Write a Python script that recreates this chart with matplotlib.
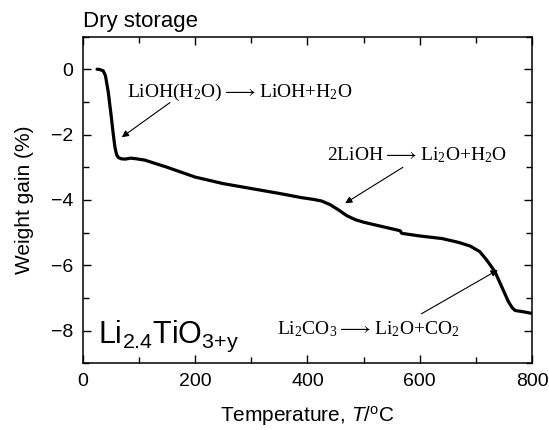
import matplotlib
matplotlib.use("Agg")
import matplotlib.pyplot as plt
from matplotlib.ticker import MultipleLocator

plt.rcParams['font.family'] = ['Liberation Sans', 'DejaVu Sans']
plt.rcParams['mathtext.fontset'] = 'custom'
plt.rcParams['mathtext.rm'] = 'Liberation Sans'
plt.rcParams['mathtext.it'] = 'Liberation Sans:italic'
plt.rcParams['mathtext.default'] = 'regular'

# TGA curve (Temperature in C, weight gain in %)
temperature = [25, 30, 36, 40, 45, 50, 54, 57, 60, 63, 68, 75, 85, 95, 110, 150,
               200, 250, 300, 350, 390, 410, 425, 440, 455, 470, 485, 500, 530,
               565, 568, 572, 600, 640, 670, 690, 707, 719, 734, 746, 758, 765,
               770, 785, 800]
weight_gain = [0.0, -0.01, -0.05, -0.2, -0.7, -1.4, -2.0, -2.4, -2.62, -2.7, -2.74,
               -2.75, -2.72, -2.74, -2.78, -3.0, -3.3, -3.5, -3.65, -3.8, -3.93,
               -3.98, -4.03, -4.14, -4.3, -4.48, -4.6, -4.68, -4.8, -4.94, -5.02,
               -5.03, -5.1, -5.18, -5.3, -5.41, -5.58, -5.83, -6.19, -6.65, -7.11,
               -7.3, -7.38, -7.42, -7.47]

fig = plt.figure(figsize=(5.49, 4.30), dpi=100)
ax = fig.add_axes([0.1512, 0.1547, 0.969 - 0.1512, 0.9151 - 0.1547])

ax.plot(temperature, weight_gain, color='black', lw=2.3, solid_capstyle='round',
        solid_joinstyle='round')

ax.set_xlim(0, 800)
ax.set_ylim(-9, 1)
ax.xaxis.set_major_locator(MultipleLocator(200))
ax.xaxis.set_minor_locator(MultipleLocator(100))
ax.yaxis.set_major_locator(MultipleLocator(2))
ax.yaxis.set_minor_locator(MultipleLocator(1))
ax.tick_params(which='both', direction='in', top=True, right=True, labelsize=14, width=1.0)
ax.tick_params(which='major', length=6, pad=7)
ax.tick_params(which='minor', length=4)
for s in ax.spines.values():
    s.set_linewidth(1.1)

ax.set_xlabel(r'Temperature, $\it{T}$/$^{o}$C', fontsize=15, labelpad=10)
ax.set_ylabel('Weight gain (%)', fontsize=15, labelpad=12)
ax.text(0.0, 1.015, 'Dry storage', transform=ax.transAxes, fontsize=16,
        ha='left', va='bottom')

serif = ['Liberation Serif', 'DejaVu Serif']
ann_kw = dict(family=serif, fontsize=14, ha='left', va='baseline',
              math_fontfamily='dejavuserif')
ax.text(78, -0.86, r'LiOH(H$_2$O)$\longrightarrow$LiOH+H$_2$O', **ann_kw)
ax.text(434, -2.80, r'2LiOH$\longrightarrow$Li$_2$O+H$_2$O', **ann_kw)
ax.text(345, -8.1, r'Li$_2$CO$_3$$\longrightarrow$Li$_2$O+CO$_2$', **ann_kw)

ax.text(27, -8.37, r'Li$_{2.4}$TiO$_{3{+}y}$', fontsize=22, ha='left', va='baseline')

arrow = dict(arrowstyle='-|>', color='black', lw=0.8, mutation_scale=10,
             shrinkA=0, shrinkB=0)
ax.annotate('', xy=(69, -2.08), xytext=(155, -1.02), arrowprops=arrow)
ax.annotate('', xy=(467, -4.1), xytext=(570, -3.0), arrowprops=arrow)
ax.annotate('', xy=(739, -6.14), xytext=(603, -7.48), arrowprops=arrow)

fig.savefig('out.png', dpi=100)
